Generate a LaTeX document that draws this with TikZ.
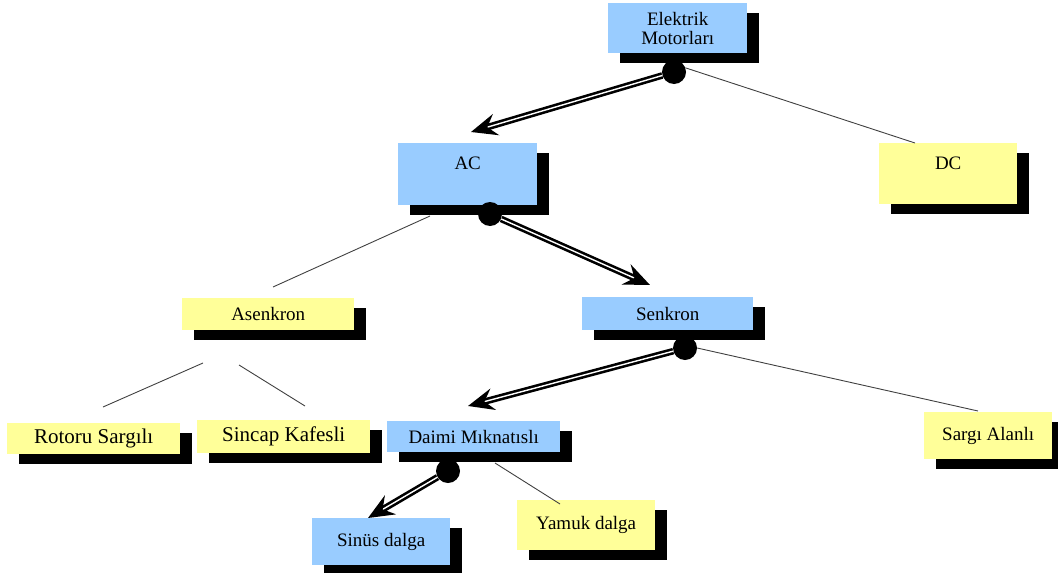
\documentclass[tikz,border=0pt]{standalone}
\usepackage{fontspec}
\setmainfont{Liberation Serif}
\usepackage{xcolor}
\usepackage{tikz}
\usetikzlibrary{
  arrows.meta,
  shadows,
}
\definecolor{motorblue}{HTML}{99CCFF}
\definecolor{motoryellow}{HTML}{FFFF99}

\begin{document}
\begin{tikzpicture}[
    x=1pt, y=-1pt,
    box/.style={rectangle, anchor=north west, inner sep=0pt, align=center,
                font=\fontsize{19}{19}\selectfont,
                drop shadow={fill=black, opacity=1,
                             shadow xshift=12pt, shadow yshift=-10pt}},
    bluebox/.style={box, fill=motorblue},
    yellowbox/.style={box, fill=motoryellow},
    bigtext/.style={font=\fontsize{21}{21}\selectfont},
    joint/.style={circle, fill=black, inner sep=0pt, minimum size=24pt},
    mainarrow/.style={draw=black, line width=2.6pt, double=white,
                      double distance=1.4pt,
                      -{Stealth[length=26pt, width=22pt, inset=9pt, fill=black]}},
    branch/.style={draw=black!75, line width=0.9pt},
  ]
  \useasboundingbox (0,0) rectangle (1058,573);
  \clip (0,0) rectangle (1058,573);

  % boxes
  \node[bluebox, minimum width=139pt, minimum height=50pt] (em) at (608,3) {Elektrik\\Motorları};
  \node[bluebox, minimum width=139pt, text height=26pt, text depth=36pt] (ac) at (398,143) {AC};
  \node[yellowbox, minimum width=138pt, text height=26pt, text depth=35pt] (dc) at (879,143) {DC};
  \node[yellowbox, minimum width=172pt, minimum height=32pt] (as) at (182,298) {Asenkron};
  \node[bluebox, minimum width=171pt, minimum height=33pt] (sk) at (582,297) {Senkron};
  \node[yellowbox, bigtext, minimum width=173pt, minimum height=31pt] (rs) at (7,423) {Rotoru Sargılı};
  \node[yellowbox, bigtext, minimum width=173pt, minimum height=33pt] (sc) at (197,420) {Sincap Kafesli};
  \node[bluebox, minimum width=173pt, minimum height=31pt] (dm) at (387,421) {Daimi Mıknatıslı};
  \node[bluebox, minimum width=138pt, minimum height=47pt] (sn) at (312,518) {Sinüs dalga};
  \node[yellowbox, minimum width=138pt, minimum height=50pt] (ym) at (517,500) {Yamuk dalga};
  \node[yellowbox, minimum width=128pt, minimum height=47pt] (sa) at (924,412) {Sargı Alanlı};

  % joints
  \node[joint] (emdot) at (674,72)  {};
  \node[joint] (acdot) at (490,214) {};
  \node[joint] (skdot) at (685,348) {};
  \node[joint] (dmdot) at (448,471) {};

  % free ends
  \coordinate (actip)   at (471,132);
  \coordinate (sktip)   at (650,285);
  \coordinate (dmtip)   at (468,406);
  \coordinate (sntip)   at (368,518);
  \coordinate (dcin)    at (915,143);
  \coordinate (acfoot)  at (430,216);
  \coordinate (ashead)  at (273,287);
  \coordinate (asleft)  at (203,363);
  \coordinate (rshead)  at (103,407);
  \coordinate (asright) at (239,365);
  \coordinate (schead)  at (305,406);
  \coordinate (sain)    at (978,411);
  \coordinate (dmfoot)  at (495,463);
  \coordinate (ymin)    at (560,504);

  \draw[mainarrow] (emdot) -- (actip);
  \draw[mainarrow] (acdot) -- (sktip);
  \draw[mainarrow] (skdot) -- (dmtip);
  \draw[mainarrow] (dmdot) -- (sntip);

  \draw[branch] (emdot.20) -- (dcin);
  \draw[branch] (acfoot) -- (ashead);
  \draw[branch] (asleft) -- (rshead);
  \draw[branch] (asright) -- (schead);
  \draw[branch] (skdot.east) -- (sain);
  \draw[branch] (dmfoot) -- (ymin);
\end{tikzpicture}
\end{document}
